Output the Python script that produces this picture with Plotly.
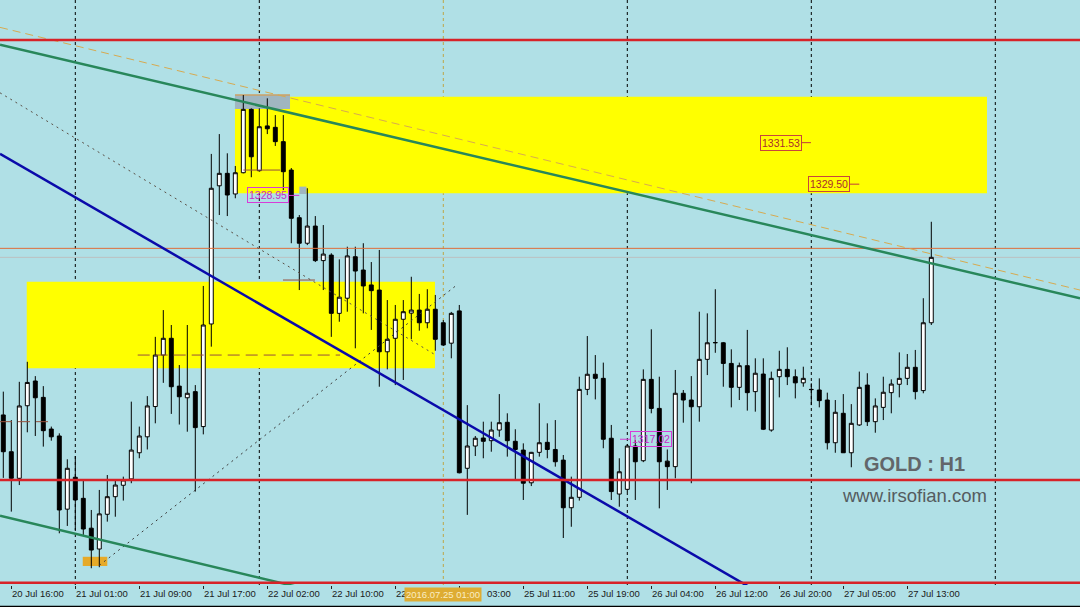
import plotly.graph_objects as go

# ---------------- data (GOLD, H1) ----------------
# bar index 0 = 20 Jul 2016 16:00 ; weekend / daily gaps removed (MT4 style)
bars = list(range(-1, 116))

opens = [1318.21, 1316.41, 1315.11, 1318.66, 1319.87, 1319.07, 1317.52, 1317.18, 1313.60, 1315.16,
         1314.13, 1312.67, 1311.65, 1313.35, 1314.21, 1314.77, 1315.08, 1316.36, 1317.14, 1318.62,
         1321.14, 1321.96, 1319.62, 1319.05, 1319.35, 1317.64, 1322.66, 1329.42, 1330.03, 1329.02,
         1330.06, 1333.16, 1330.16, 1332.35, 1332.28, 1331.58, 1330.19, 1327.86, 1326.61, 1327.45,
         1325.76, 1326.03, 1323.18, 1323.92, 1325.95, 1325.30, 1324.57, 1324.32, 1321.30, 1321.96,
         1322.89, 1323.19, 1323.34, 1322.72, 1323.38, 1322.72, 1321.72, 1323.30, 1315.60, 1316.69,
         1317.08, 1316.95, 1317.47, 1317.85, 1316.92, 1316.49, 1314.89, 1316.38, 1316.87, 1316.52,
         1316.00, 1313.67, 1314.18, 1319.46, 1320.20, 1320.00, 1317.07, 1314.34, 1314.57, 1316.69,
         1315.97, 1319.95, 1318.53, 1315.95, 1315.68, 1319.27, 1318.94, 1318.61, 1320.93, 1321.74,
         1321.74, 1320.73, 1319.56, 1320.62, 1319.35, 1320.21, 1317.47, 1320.08, 1320.44, 1320.08,
         1319.78, 1319.46, 1319.43, 1318.94, 1316.85, 1318.29, 1316.36, 1317.72, 1319.67, 1317.88,
         1318.58, 1319.30, 1319.71, 1320.00, 1320.54, 1319.40, 1322.72]
highs = [1319.35, 1317.96, 1319.83, 1320.81, 1320.11, 1319.62, 1317.64, 1317.31, 1316.04, 1316.20,
         1315.03, 1313.56, 1314.54, 1315.27, 1315.03, 1315.19, 1318.86, 1317.64, 1319.13, 1322.03,
         1323.34, 1322.61, 1320.65, 1322.61, 1319.67, 1324.52, 1330.98, 1331.95, 1331.01, 1330.39,
         1333.86, 1333.21, 1333.21, 1333.70, 1332.88, 1332.88, 1330.29, 1327.99, 1329.30, 1327.94,
         1327.50, 1326.12, 1325.82, 1326.44, 1326.44, 1326.61, 1325.69, 1326.28, 1323.83, 1323.59,
         1323.83, 1324.97, 1324.13, 1324.36, 1324.08, 1322.85, 1323.25, 1323.59, 1318.69, 1317.18,
         1317.88, 1317.88, 1319.23, 1318.29, 1317.51, 1316.82, 1316.40, 1318.78, 1317.80, 1317.96,
         1316.25, 1315.19, 1320.08, 1322.07, 1321.14, 1320.77, 1317.72, 1316.09, 1316.79, 1316.98,
         1320.44, 1322.40, 1320.08, 1316.52, 1320.41, 1319.43, 1320.11, 1323.26, 1323.18, 1324.36,
         1321.78, 1321.42, 1320.77, 1322.37, 1320.98, 1320.98, 1320.33, 1321.35, 1321.52, 1320.44,
         1320.57, 1319.76, 1320.00, 1319.30, 1318.94, 1319.23, 1318.74, 1320.33, 1320.25, 1319.02,
         1320.08, 1319.95, 1321.27, 1321.19, 1321.39, 1323.92, 1327.66]
lows = [1315.13, 1313.48, 1314.78, 1317.36, 1317.18, 1316.66, 1316.95, 1312.42, 1312.78, 1312.58,
        1312.34, 1310.71, 1310.76, 1312.99, 1313.23, 1314.02, 1314.87, 1316.09, 1316.52, 1317.80,
        1319.78, 1318.26, 1317.74, 1317.39, 1314.46, 1317.26, 1321.55, 1327.99, 1327.94, 1328.81,
        1330.03, 1329.84, 1330.11, 1331.95, 1331.37, 1329.21, 1326.61, 1324.32, 1326.52, 1325.69,
        1324.32, 1322.03, 1322.77, 1323.26, 1321.47, 1323.18, 1322.37, 1319.59, 1320.44, 1319.67,
        1319.92, 1321.91, 1322.33, 1322.45, 1321.35, 1321.58, 1320.98, 1315.35, 1313.32, 1316.20,
        1316.09, 1316.41, 1317.14, 1316.17, 1315.06, 1314.05, 1314.73, 1316.17, 1316.09, 1315.68,
        1312.19, 1312.74, 1314.02, 1319.18, 1318.97, 1316.58, 1314.05, 1313.72, 1314.44, 1314.05,
        1315.90, 1318.29, 1313.64, 1314.54, 1315.11, 1317.83, 1314.87, 1317.88, 1320.16, 1321.25,
        1319.59, 1318.58, 1318.94, 1318.42, 1318.37, 1317.47, 1317.39, 1319.07, 1319.67, 1319.02,
        1319.59, 1318.69, 1318.58, 1316.52, 1316.36, 1316.35, 1315.65, 1317.67, 1317.67, 1317.34,
        1317.96, 1318.29, 1319.07, 1319.67, 1318.97, 1319.27, 1322.61]
closes = [1316.41, 1315.11, 1318.65, 1319.80, 1319.05, 1317.44, 1317.14, 1313.56, 1315.60, 1314.05,
          1312.63, 1311.60, 1313.37, 1314.21, 1314.78, 1315.03, 1316.49, 1317.18, 1318.65, 1321.14,
          1321.96, 1319.59, 1319.10, 1319.27, 1317.59, 1322.61, 1329.30, 1330.03, 1328.97, 1330.06,
          1333.16, 1330.84, 1332.31, 1332.21, 1331.58, 1330.11, 1327.83, 1326.61, 1327.45, 1325.76,
          1326.08, 1323.18, 1323.97, 1325.99, 1325.25, 1324.52, 1324.29, 1321.30, 1321.91, 1322.89,
          1323.26, 1323.34, 1322.72, 1323.38, 1321.91, 1321.63, 1323.18, 1315.38, 1316.69, 1317.07,
          1316.92, 1317.47, 1317.83, 1316.95, 1316.52, 1314.87, 1316.38, 1316.85, 1316.52, 1315.92,
          1313.67, 1314.18, 1319.46, 1320.20, 1320.00, 1317.02, 1314.46, 1315.43, 1316.69, 1315.92,
          1319.95, 1318.53, 1315.92, 1315.68, 1319.27, 1318.94, 1318.61, 1320.93, 1321.74, 1321.75,
          1320.73, 1319.56, 1320.62, 1319.30, 1320.25, 1317.51, 1320.00, 1320.44, 1320.08, 1319.78,
          1320.00, 1319.45, 1318.91, 1316.85, 1318.34, 1316.36, 1317.80, 1319.56, 1317.88, 1318.65,
          1319.32, 1319.72, 1320.00, 1320.54, 1319.35, 1322.72, 1325.92]

tick_bars = [0, 8, 16, 24, 32, 40, 48, 56, 64, 72, 80, 88, 96, 104, 112]
# labels as visible on the chart (two are partly hidden by the selected-time marker)
tick_labels = ["20 Jul 16:00", "21 Jul 01:00", "21 Jul 09:00", "21 Jul 17:00", "22 Jul 02:00",
               "22 Jul 10:00", "22", "03:00", "25 Jul 11:00", "25 Jul 19:00",
               "26 Jul 04:00", "26 Jul 12:00", "26 Jul 20:00", "27 Jul 05:00", "27 Jul 13:00"]

day_separator_bars = [8, 31, 77, 100, 123]
selected_bar = 54
selected_label = "2016.07.25 01:00"

red_levels = [1336.55, 1315.03, 1310.00]
ask_price = 1326.36
bid_price = 1325.92

# zones: (bar start, bar end, price low, price high)
yellow_zones = [(27.96, 121.96, 1329.05, 1333.78), (1.93, 52.96, 1320.49, 1324.73)]
gray_marks = [(27.96, 34.84, 1333.18, 1333.86), (36.0, 36.9, 1329.02, 1329.38)]
orange_mark = (8.93, 12.0, 1310.82, 1311.27)

# trend lines: (bar0, price0, bar1, price1)
green_upper = (-1.41, 1336.32, 133.59, 1323.92)
green_lower = (-1.41, 1313.28, 40.0, 1309.40)
gold_dashed = (-1.41, 1337.17, 133.59, 1324.32)
blue_trend = (-1.41, 1330.98, 100.0, 1308.04)
dotted_down = (-1.41, 1333.97, 52.96, 1321.16)
dotted_up = (11.0, 1310.85, 55.7, 1324.57)

# short horizontal segments: (bar0, bar1, price, dashed?)
brown_segments = [(15.8, 41.1, 1321.14, True), (29.0, 33.6, 1330.19, False),
                  (33.96, 37.96, 1324.81, False), (-1.41, 4.84, 1317.88, True)]

# price labels: (text, anchor bar, price)
price_labels_red = [("1331.53", 99.96, 1331.53), ("1329.50", 106.0, 1329.50)]
price_labels_mag = [("1328.95", 36.0, 1328.95), ("1317.02", 76.09, 1317.02)]

# ---------------- figure ----------------
BG = "#B0E0E6"
fig = go.Figure()

fig.add_trace(go.Candlestick(
    x=bars, open=opens, high=highs, low=lows, close=closes,
    increasing=dict(line=dict(color="black", width=1), fillcolor="white"),
    decreasing=dict(line=dict(color="black", width=1), fillcolor="black"),
    whiskerwidth=0, hoverinfo="skip", showlegend=False,
))

shapes = []
# background objects
for b0, b1, p0, p1 in yellow_zones:
    shapes.append(dict(type="rect", xref="x", yref="y", x0=b0, x1=b1, y0=p0, y1=p1,
                       fillcolor="#FFFF00", line=dict(width=0), layer="below"))
for b0, b1, p0, p1 in gray_marks:
    shapes.append(dict(type="rect", xref="x", yref="y", x0=b0, x1=b1, y0=p0, y1=p1,
                       fillcolor="rgb(160,182,192)", line=dict(width=0), layer="below"))
shapes.append(dict(type="line", xref="x", yref="y", x0=gray_marks[0][0], x1=gray_marks[0][1],
                   y0=gray_marks[0][3], y1=gray_marks[0][3],
                   line=dict(color="rgb(205,160,100)", width=1.5), layer="below"))
shapes.append(dict(type="rect", xref="x", yref="y", x0=orange_mark[0], x1=orange_mark[1],
                   y0=orange_mark[2], y1=orange_mark[3],
                   fillcolor="rgb(230,170,40)", line=dict(width=0), layer="below"))
for b in day_separator_bars:
    shapes.append(dict(type="line", xref="x", yref="paper", x0=b, x1=b, y0=0, y1=1,
                       line=dict(color="black", width=1, dash="3px,3px"), layer="below"))
shapes.append(dict(type="line", xref="x", yref="paper", x0=selected_bar, x1=selected_bar, y0=0, y1=1,
                   line=dict(color="rgb(190,165,70)", width=1, dash="3px,3px"), layer="below"))
shapes.append(dict(type="line", xref="paper", yref="y", x0=0, x1=1, y0=bid_price, y1=bid_price,
                   line=dict(color="rgb(188,192,192)", width=1), layer="below"))

# foreground objects
shapes.append(dict(type="line", xref="paper", yref="y", x0=0, x1=1, y0=ask_price, y1=ask_price,
                   line=dict(color="rgb(222,110,60)", width=1), layer="above"))
for b0, b1, p, dashed in brown_segments:
    shapes.append(dict(type="line", xref="x", yref="y", x0=b0, x1=b1, y0=p, y1=p,
                       line=dict(color="rgb(150,80,60)", width=1,
                                 dash="12px,6px" if dashed else "solid"), layer="above"))
for ln, col, w, dash in [
    (dotted_down, "rgb(90,80,70)", 1, "2px,4px"),
    (dotted_up, "rgb(60,60,60)", 1, "2px,4px"),
    (gold_dashed, "rgb(215,170,80)", 1, "8px,5px"),
    (green_upper, "rgb(40,135,90)", 2.5, "solid"),
    (green_lower, "rgb(40,135,90)", 2.5, "solid"),
    (blue_trend, "rgb(10,10,170)", 2.5, "solid"),
]:
    shapes.append(dict(type="line", xref="x", yref="y", x0=ln[0], y0=ln[1], x1=ln[2], y1=ln[3],
                       line=dict(color=col, width=w, dash=dash), layer="above"))
for p in red_levels:
    shapes.append(dict(type="line", xref="paper", yref="y", x0=0, x1=1, y0=p, y1=p,
                       line=dict(color="rgb(215,35,40)", width=2.5), layer="above"))
# bottom frame line of the window
shapes.append(dict(type="line", xref="paper", yref="paper", x0=0, x1=1, y0=-0.0368, y1=-0.0368,
                   line=dict(color="black", width=1.5)))

annotations = []
# time-axis labels, left-aligned on their tick like MT4
for b, lab in zip(tick_bars, tick_labels):
    annotations.append(dict(x=b, y=-0.0145, xref="x", yref="paper", text=lab, showarrow=False,
                            xanchor="left", yanchor="middle",
                            xshift=(26 if lab == "03:00" else -1),
                            font=dict(family="Liberation Sans", size=9.5, color="#1a1a1a")))
for txt, b, p in price_labels_red:
    annotations.append(dict(x=b, y=p, xref="x", yref="y", text=txt, showarrow=True, arrowhead=0,
                            arrowwidth=1, arrowcolor="rgb(190,60,60)", ax=-30, ay=0,
                            font=dict(family="Liberation Sans", size=10.5, color="rgb(170,45,45)"),
                            bordercolor="rgb(200,70,60)", borderwidth=1, borderpad=1))
for txt, b, p in price_labels_mag:
    ax = -31 if b < 50 else 31
    annotations.append(dict(x=b, y=p, xref="x", yref="y", text=txt, showarrow=True, arrowhead=0,
                            arrowwidth=1, arrowcolor="rgb(210,60,210)", ax=ax, ay=0,
                            font=dict(family="Liberation Sans", size=10.5, color="rgb(200,40,200)"),
                            bordercolor="rgb(215,60,215)", borderwidth=1, borderpad=1))
annotations.append(dict(x=0.847, y=0.2063, xref="paper", yref="paper", text="<b>GOLD : H1</b>",
                        showarrow=False, xanchor="center", yanchor="middle",
                        font=dict(family="Liberation Sans", size=20, color="rgb(98,102,106)")))
annotations.append(dict(x=0.847, y=0.1538, xref="paper", yref="paper", text="www.irsofian.com",
                        showarrow=False, xanchor="center", yanchor="middle",
                        font=dict(family="Liberation Sans", size=18.5, color="rgb(85,92,96)")))
annotations.append(dict(x=selected_bar, y=-0.0154, xref="x", yref="paper", text=selected_label,
                        showarrow=False, xanchor="center", yanchor="middle",
                        bgcolor="rgb(222,172,50)", borderpad=1,
                        font=dict(family="Liberation Sans", size=9.5, color="rgb(250,236,195)")))

fig.update_layout(
    width=1080, height=607,
    margin=dict(l=0, r=0, t=0, b=22),
    paper_bgcolor=BG, plot_bgcolor=BG,
    shapes=shapes, annotations=annotations,
    showlegend=False,
    xaxis=dict(range=[-1.4125, 133.5875], showgrid=False, zeroline=False, showline=False,
               tickmode="array", tickvals=tick_bars, showticklabels=False,
               ticks="outside", ticklen=3, tickcolor="#222",
               rangeslider=dict(visible=False), fixedrange=True),
    yaxis=dict(range=[1309.89, 1338.51], showgrid=False, zeroline=False, showline=False,
               showticklabels=False, ticks="", fixedrange=True),
)

fig.write_html("out.html", config={"displayModeBar": False},
               post_script="document.body.style.margin='0';document.body.style.padding='0';"
                           "document.body.style.overflow='hidden';")
